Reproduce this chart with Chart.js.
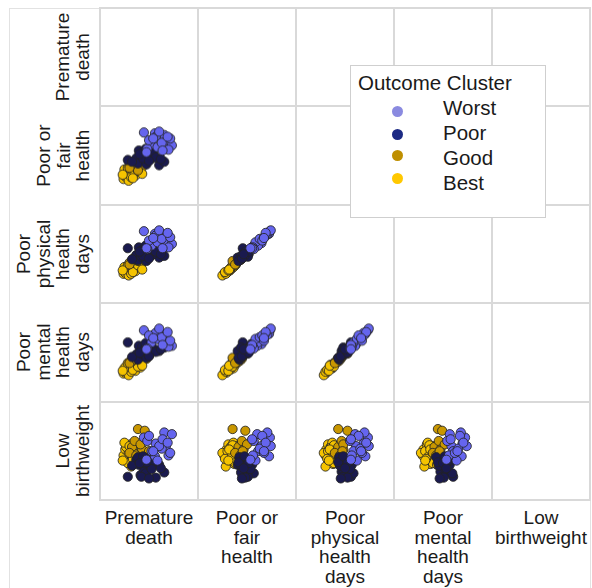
<!DOCTYPE html>
<html>
<head>
<meta charset="utf-8">
<script src="https://cdn.jsdelivr.net/npm/chart.js@4"></script>
<style>
  body { margin: 0; background: #fff; font-family: 'Liberation Sans', Arial, sans-serif; color: #1a1a1a; }
  #page { position: relative; width: 592px; height: 588px; overflow: hidden; }
  #frame { position: absolute; left: 9px; top: 8px; width: 580px; height: 600px; border: 1px solid #e2e2e2; }
  .line { position: absolute; background: #d9d9d9; }
  .cell { position: absolute; }
  .colLab { position: absolute; width: 98px; top: 508px; text-align: center; font-size: 19px; line-height: 19.5px; }
  .rowWrap { position: absolute; left: 92px; width: 0; height: 0; }
  .rowLab { position: absolute; left: -49px; bottom: 0; width: 98px; text-align: center; font-size: 19px; line-height: 19.5px;
            transform-origin: 50% 100%; transform: rotate(-90deg); }
  #legend { position: absolute; left: 350px; top: 65px; width: 194px; height: 151px; background: #fff; border: 1px solid #cfcfcf; z-index: 5; }
  #legend .title { position: absolute; left: 7px; top: 5px; font-size: 20.5px; line-height: 24px; white-space: nowrap; }
  #legend .dot { position: absolute; width: 11px; height: 11px; border-radius: 50%; left: 41px; }
  #legend .name { position: absolute; left: 92px; font-size: 20.5px; line-height: 24px; }
</style>
</head>
<body>
<div id="page">
  <div id="frame"></div>
  <div id="legend"></div>
</div>
<script>
// variables in the matrix (rows top->bottom, columns left->right)
const varLabels = [
  ['Premature', 'death'],
  ['Poor or', 'fair', 'health'],
  ['Poor', 'physical', 'health', 'days'],
  ['Poor', 'mental', 'health', 'days'],
  ['Low', 'birthweight']
];
const clusters = ['Worst', 'Poor', 'Good', 'Best'];
const clusterSizes = [18, 24, 9, 24];
const pointColors = ['#6565ee', '#1a1a4e', '#c99700', '#f5c300'];
const legendColors = ['#8a8ae0', '#1c2a84', '#bf8f00', '#ffc800'];

// one value per county, grouped Worst | Poor | Good | Best (scaled 0-100)
const prematureDeath = [
  44, 57, 68, 58, 70, 77, 53, 60, 73, 48, 65, 75, 50, 62, 66, 47, 72, 55,
  25, 38, 42, 45, 40, 48, 50, 35, 52, 44, 62, 68, 55, 37, 46, 41, 53, 30, 47, 58, 43, 50, 39, 64,
  37, 45, 30, 33, 42, 27, 40, 35, 50,
  20, 22, 24, 26, 28, 30, 32, 23, 34, 36, 29, 38, 21, 33, 40, 25, 27, 35, 31, 43, 19, 37, 47, 42
];
const poorFairHealth = [
  77, 76, 74, 72, 67, 62, 63, 60, 57, 58, 65, 70, 68, 78, 56, 54, 72, 70,
  45, 56, 53, 50, 48, 55, 50, 47, 46, 44, 39, 43, 52, 41, 58, 51, 54, 43, 40, 48, 47, 44, 52, 46,
  33, 48, 40, 44, 46, 36, 50, 42, 45,
  23, 26, 30, 21, 28, 33, 35, 31, 27, 37, 25, 40, 34, 30, 32, 36, 38, 42, 24, 38, 28, 33, 44, 29
];
const physicalDays = [
  77, 74, 73, 72, 63, 62, 60, 64, 58, 56, 68, 70, 66, 78, 57, 57, 75, 69,
  57, 58, 55, 52, 50, 57, 53, 49, 48, 46, 46, 48, 50, 43, 60, 47, 56, 44, 42, 53, 48, 45, 53, 50,
  42, 53, 42, 46, 48, 38, 48, 44, 47,
  27, 28, 31, 25, 30, 34, 36, 33, 30, 38, 27, 42, 35, 33, 35, 37, 40, 43, 29, 41, 31, 37, 45, 32
];
const mentalDays = [
  76, 72, 71, 73, 60, 58, 62, 66, 57, 55, 68, 64, 70, 78, 59, 54, 74, 67,
  62, 58, 57, 54, 50, 60, 52, 48, 50, 47, 52, 56, 55, 42, 61, 49, 53, 45, 44, 51, 52, 46, 50, 54,
  44, 49, 40, 45, 47, 38, 52, 42, 46,
  26, 27, 30, 24, 31, 33, 35, 34, 29, 37, 28, 40, 32, 36, 33, 38, 39, 41, 30, 42, 29, 34, 43, 35
];
const lowBirthweight = [
  66, 44, 72, 59, 56, 70, 50, 39, 45, 62, 53, 48, 68, 56, 64, 40, 60, 50,
  20, 34, 38, 28, 22, 42, 35, 40, 31, 26, 34, 25, 38, 43, 24, 20, 29, 33, 37, 19, 44, 18, 36, 30,
  76, 74, 55, 62, 52, 48, 58, 45, 50,
  45, 52, 38, 48, 58, 42, 35, 55, 50, 46, 32, 40, 60, 54, 44, 36, 56, 47, 41, 49, 39, 57, 34, 52
];
const variables = [prematureDeath, poorFairHealth, physicalDays, mentalDays, lowBirthweight];

// cluster index for each county
const clusterOf = [];
clusterSizes.forEach((n, k) => { for (let i = 0; i < n; i++) clusterOf.push(k); });

const page = document.getElementById('page');
const gx = 100, gy = 8, cw = 98, ch = 98.4;

// grid lines
for (let i = 0; i <= 5; i++) {
  const v = document.createElement('div');
  v.className = 'line';
  Object.assign(v.style, { left: (gx + i * cw - 1) + 'px', top: (gy - 1) + 'px', width: '2px', height: (5 * ch + 2) + 'px' });
  page.appendChild(v);
  const h = document.createElement('div');
  h.className = 'line';
  Object.assign(h.style, { left: (gx - 1) + 'px', top: (gy + i * ch - 1) + 'px', width: (5 * cw + 2) + 'px', height: '2px' });
  page.appendChild(h);
}

// column labels (bottom) and row labels (left, rotated)
varLabels.forEach((lines, i) => {
  const c = document.createElement('div');
  c.className = 'colLab';
  c.style.left = (gx + i * cw) + 'px';
  c.innerHTML = lines.join('<br>');
  page.appendChild(c);

  const w = document.createElement('div');
  w.className = 'rowWrap';
  w.style.top = (gy + i * ch + ch / 2) + 'px';
  const r = document.createElement('div');
  r.className = 'rowLab';
  r.innerHTML = lines.join('<br>');
  w.appendChild(r);
  page.appendChild(w);
});

//scatter cells, lower triangle only
for (let row = 1; row < 5; row++) {
  for (let col = 0; col < row; col++) {
    const box = document.createElement('div');
    box.className = 'cell';
    Object.assign(box.style, {
      left: (gx + col * cw + 1) + 'px', top: (gy + row * ch + 1) + 'px',
      width: (cw - 2) + 'px', height: (ch - 2) + 'px'
    });
    const cv = document.createElement('canvas');
    box.appendChild(cv);
    page.appendChild(box);

    const datasets = clusters.map((name, k) => ({
      label: name,
      data: prematureDeath.map((_, i) => i)
        .filter(i => clusterOf[i] === k)
        .map(i => ({ x: variables[col][i], y: variables[row][i] })),
      backgroundColor: pointColors[k],
      borderColor: 'rgba(35,35,35,0.85)',
      borderWidth: 1,
      pointRadius: 4.6,
      clip: false
    }));

    new Chart(cv, {
      type: 'scatter',
      data: { datasets: datasets },
      options: {
        responsive: true,
        maintainAspectRatio: false,
        animation: false,
        events: [],
        layout: { padding: 0 },
        plugins: { legend: { display: false }, tooltip: { enabled: false } },
        scales: {
          x: { type: 'linear', min: 0, max: 100, display: false },
          y: { type: 'linear', min: 0, max: 100, display: false }
        }
      }
    });
  }
}

// legend box
const legend = document.getElementById('legend');
const t = document.createElement('div');
t.className = 'title';
t.textContent = 'Outcome Cluster';
legend.appendChild(t);
const dotY = [40, 63, 84, 107];
const nameY = [30, 55, 80, 105];
clusters.forEach((name, k) => {
  const d = document.createElement('div');
  d.className = 'dot';
  d.style.top = dotY[k] + 'px';
  d.style.background = legendColors[k];
  legend.appendChild(d);
  const n = document.createElement('div');
  n.className = 'name';
  n.style.top = nameY[k] + 'px';
  n.textContent = name;
  legend.appendChild(n);
});
</script>
</body>
</html>
